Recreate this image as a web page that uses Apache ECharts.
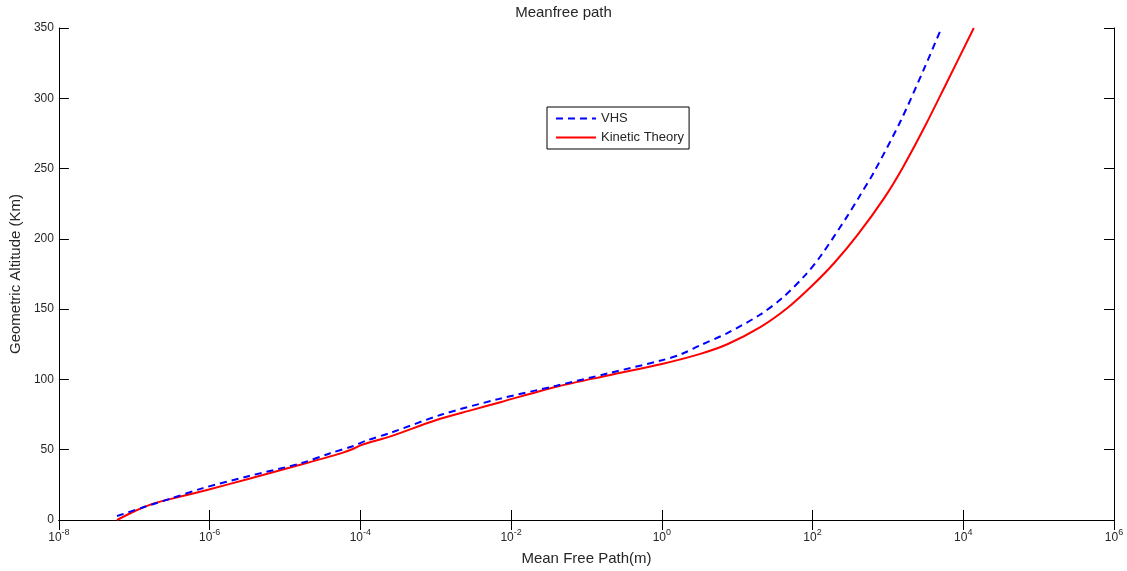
<!DOCTYPE html>
<html>
<head>
<meta charset="utf-8">
<script src="https://cdn.jsdelivr.net/npm/echarts@6/dist/echarts.min.js"></script>
<style>
html,body{margin:0;padding:0;background:#fff;}
#chart{width:1127px;height:571px;}
</style>
</head>
<body>
<div id="chart"></div>
<script>
// Mean free path (m) and geometric altitude (km)
var vhsPath = [5.9e-8, 1.26e-7, 3.16e-7, 7.94e-7, 3.16e-6, 1.66e-5, 3.98e-5, 7.94e-5, 1.2e-4, 2.51e-4, 1.2e-3, 6.76e-3, 3.98e-2, 0.2, 1, 1.82, 3.16, 7.41, 20, 39.8, 79.4, 129, 288, 417, 661, 1479, 3020, 5130];
var vhsAlt  = [2.8, 8.7, 15.5, 22.5, 31, 40.5, 47.5, 52.5, 56.5, 62, 75, 86, 95.5, 104.5, 113.6, 118, 124, 133, 146, 158, 174, 188, 216, 230, 248, 284, 321, 350];

var ktPath = [5.9e-8, 1.02e-7, 1.74e-7, 3.98e-7, 9.77e-7, 3.16e-6, 1.35e-5, 5.62e-5, 7.94e-5, 1.05e-4, 2.51e-4, 1.0e-3, 3.16e-3, 7.41e-3, 3.98e-2, 0.2, 1, 3.16, 7.41, 20, 46.8, 100, 195, 398, 891, 1585, 3162, 5890, 13800];
var ktAlt  = [0, 6.4, 11.5, 16.5, 21.7, 29, 38.2, 47.6, 50.5, 53.5, 59.5, 71, 78.5, 84, 94.8, 103, 111, 118, 125, 137, 151, 167, 183, 203, 229, 251, 281, 310, 350];

var seriesNames = ['VHS', 'Kinetic Theory'];
var titleText = 'Meanfree path';
var xName = 'Mean Free Path(m)';
var yName = 'Geometric Altitude (Km)';

function pairs(xs, ys){ return xs.map(function(x,i){ return [x, ys[i]]; }); }

var font = 'Liberation Sans, Arial, sans-serif';
var textColor = '#262626';

function xLabelFmt(v){
  var e = Math.round(Math.log(v)/Math.LN10);
  return '{b|10}{s|' + e + '}';
}
var xRich = {
  b: {fontSize: 12, fontFamily: font, color: textColor, lineHeight: 16, verticalAlign: 'bottom', padding:[6,0,0,0]},
  s: {fontSize: 9, fontFamily: font, color: textColor, lineHeight: 16, verticalAlign: 'top', padding:[0,0,0,0]}
};

var chart = echarts.init(document.getElementById('chart'), null, {renderer: 'canvas'});
var option = {
  backgroundColor: '#fff',
  animation: false,
  title: {
    text: titleText, left: 'center', top: 5, padding: 0,
    textStyle: {fontSize: 15, fontWeight: 'normal', fontFamily: font, color: textColor}
  },
  legend: {
    data: seriesNames,
    orient: 'vertical',
    left: 547, top: 107,
    padding: [5, 5, 5, 8],
    itemGap: 6, itemWidth: 40, itemHeight: 14,
    borderColor: '#000', borderWidth: 1,
    backgroundColor: '#fff',
    itemStyle: {opacity: 0, borderWidth: 0},
    textStyle: {fontSize: 13, fontFamily: font, color: textColor}
  },
  grid: {left: 56, right: 13, top: 28, bottom: 47, containLabel: false},
  xAxis: [{
    type: 'log', logBase: 10, min: 1e-8, max: 1e6, interval: 2,
    name: xName, nameLocation: 'middle', nameGap: 31,
    nameTextStyle: {fontSize: 15, fontFamily: font, color: textColor},
    axisLine: {lineStyle: {color: '#000', width: 1}},
    axisTick: {inside: true, length: 10, lineStyle: {color: '#000'}},
    minorTick: {show: false},
    axisLabel: {formatter: xLabelFmt, rich: xRich, margin: 8, showMaxLabel: true, showMinLabel: true},
    splitLine: {show: false}
  }, {
    type: 'log', logBase: 10, min: 1e-8, max: 1e6, interval: 2, position: 'top',
    axisLine: {lineStyle: {color: '#000', width: 1}},
    axisTick: {inside: true, length: 10, lineStyle: {color: '#000'}},
    axisLabel: {show: false},
    splitLine: {show: false}
  }],
  yAxis: [{
    type: 'value', min: 0, max: 350, interval: 50,
    name: yName, nameLocation: 'middle', nameGap: 31,
    nameTextStyle: {fontSize: 15, fontFamily: font, color: textColor},
    axisLine: {show: true, lineStyle: {color: '#000', width: 1}},
    axisTick: {show: true, inside: true, length: 10, lineStyle: {color: '#000'}},
    axisLabel: {fontSize: 12, fontFamily: font, color: textColor, margin: 5},
    splitLine: {show: false}
  }, {
    type: 'value', min: 0, max: 350, interval: 50, position: 'right',
    axisLine: {show: true, lineStyle: {color: '#000', width: 1}},
    axisTick: {show: true, inside: true, length: 10, lineStyle: {color: '#000'}},
    axisLabel: {show: false},
    splitLine: {show: false}
  }],
  series: [{
    name: seriesNames[0], type: 'line', xAxisIndex: 0, yAxisIndex: 0,
    data: pairs(vhsPath, vhsAlt),
    symbol: 'none', smooth: 0.3, clip: true,
    lineStyle: {color: '#0000ff', width: 2, type: [7, 5]},
    itemStyle: {color: '#0000ff'},
    z: 3
  }, {
    name: seriesNames[1], type: 'line', xAxisIndex: 0, yAxisIndex: 0,
    data: pairs(ktPath, ktAlt),
    symbol: 'none', smooth: 0.3, clip: true,
    lineStyle: {color: '#ff0000', width: 2},
    itemStyle: {color: '#ff0000'},
    z: 2
  }]
};
chart.setOption(option);
</script>
</body>
</html>
